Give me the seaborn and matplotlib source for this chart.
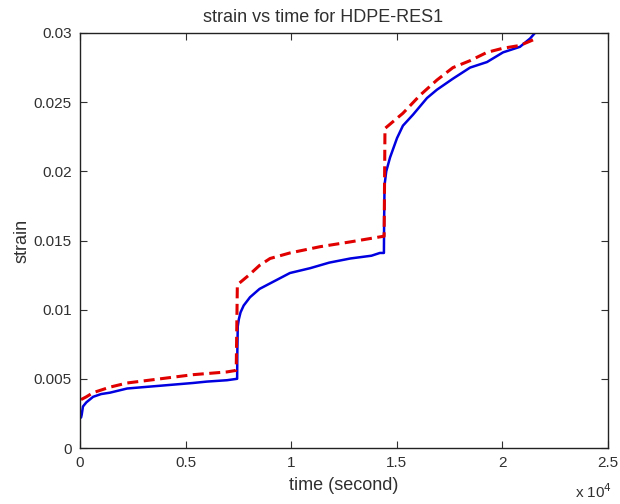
import matplotlib
matplotlib.use("Agg")
import matplotlib.pyplot as plt
import seaborn as sns
import pandas as pd

# time in seconds, strain (dimensionless)
blue_t = [50, 80, 140, 300, 620, 1000, 1420, 2230, 3000, 3790, 5350, 6000, 6960, 7430, 7440, 7450,
          7470, 7520, 7600, 7750, 8050, 8500, 9000, 9940, 10900, 11800, 12800, 13800, 14200, 14390,
          14400, 14420, 14500, 14680, 15010, 15290, 15770, 16430, 16900, 17660, 18470, 19270, 20030,
          20830, 21310, 21540]
blue_s = [0.0022, 0.0024, 0.0030, 0.0033, 0.0037, 0.0039, 0.0040, 0.0043, 0.0044, 0.0045, 0.0047, 0.0048, 0.0049, 0.0050, 0.0050, 0.0070,
          0.0088, 0.0093, 0.0098, 0.0103, 0.0109, 0.0115, 0.0119, 0.01265, 0.0130, 0.0134, 0.0137, 0.0139, 0.0141, 0.0141,
          0.0165, 0.0190, 0.0200, 0.0210, 0.0224, 0.0233, 0.0241, 0.0253, 0.0259, 0.0267, 0.0275, 0.0279, 0.0286,
          0.0290, 0.0296, 0.0300]

red_t = [50, 300, 620, 1420, 2230, 3790, 5350, 6960, 7350, 7380, 7400,
         7450, 8000, 8500, 9000, 9940, 11360, 12800, 14350, 14400, 14440,
         15290, 16100, 16900, 17660, 18470, 19270, 20030, 20830, 21450]
red_s = [0.0035, 0.0037, 0.0040, 0.0044, 0.0047, 0.0050, 0.0053, 0.0055, 0.0056, 0.0056, 0.0060,
         0.0118, 0.0125, 0.0132, 0.0137, 0.0141, 0.01455, 0.0149, 0.0153, 0.0153, 0.0231,
         0.0242, 0.0255, 0.0266, 0.0275, 0.0280, 0.0286, 0.0289, 0.0291, 0.0295]

x_ticks = [0, 5000, 10000, 15000, 20000, 25000]
x_labels = ["0", "0.5", "1", "1.5", "2", "2.5"]
y_ticks = [0, 0.005, 0.01, 0.015, 0.02, 0.025, 0.03]
y_labels = ["0", "0.005", "0.01", "0.015", "0.02", "0.025", "0.03"]

sns.set_style("ticks")
plt.rcParams["font.family"] = ["Liberation Sans", "DejaVu Sans"]
txt = "#303030"

fig = plt.figure(figsize=(6.2, 5.04), dpi=100)
ax = fig.add_axes([80/620, 56/504, 528/620, 415/504])

blue_df = pd.DataFrame({"t": blue_t, "s": blue_s})
red_df = pd.DataFrame({"t": red_t, "s": red_s})
sns.lineplot(data=blue_df, x="t", y="s", estimator=None, sort=False, color="#0000e0",
             linewidth=1.8, ax=ax)
sns.lineplot(data=red_df, x="t", y="s", estimator=None, sort=False, color="#e00000",
             linewidth=2.2, linestyle=(0, (3.6, 1.8)), ax=ax)

ax.set_xlim(0, 25000)
ax.set_ylim(0, 0.03)
ax.set_xticks(x_ticks)
ax.set_xticklabels(x_labels)
ax.set_yticks(y_ticks)
ax.set_yticklabels(y_labels)
ax.tick_params(direction="in", length=5, width=0.8, top=True, right=True,
               labelsize=11, colors=txt, pad=6)
for sp in ax.spines.values():
    sp.set_visible(True)
    sp.set_linewidth(1.0)
    sp.set_color("#222222")

ax.set_xlabel("time (second)", fontsize=13, color=txt, labelpad=5)
ax.set_ylabel("strain", fontsize=13, color=txt, labelpad=2)
ax.set_title("strain vs time for HDPE-RES1", fontsize=13, color=txt, pad=8, x=0.46)
fig.text(575/620, 1 - 492/504, r"x 10$^4$", fontsize=11, color=txt, va="center")

fig.savefig("out.png", dpi=100)
